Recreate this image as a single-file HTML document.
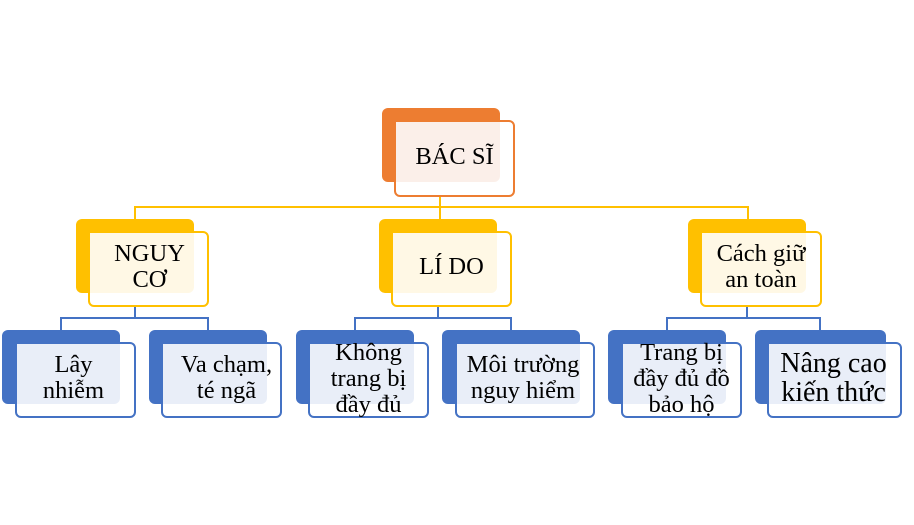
<!DOCTYPE html>
<html><head><meta charset="utf-8"><style>
body{margin:0;width:914px;height:525px;background:#fff;position:relative;overflow:hidden;font-family:"Liberation Serif",serif;}
.b,.f,.t,.l{position:absolute;box-sizing:border-box;}
.b{border-radius:6px;}
.f{border-radius:6px;background:#fff;border:2px solid;}
.t{display:flex;align-items:center;justify-content:center;text-align:center;font-size:24.5px;line-height:26px;color:#000;padding-bottom:4px;white-space:nowrap;}
</style></head><body>
<div class="l" style="left:439px;top:196px;width:2px;height:23px;background:#FFC000"></div>
<div class="l" style="left:134px;top:206px;width:615px;height:2px;background:#FFC000"></div>
<div class="l" style="left:134px;top:206px;width:2px;height:13px;background:#FFC000"></div>
<div class="l" style="left:747px;top:206px;width:2px;height:13px;background:#FFC000"></div>

<div class="l" style="left:60px;top:317px;width:149px;height:2px;background:#4472C4"></div>
<div class="l" style="left:60px;top:317px;width:2px;height:13px;background:#4472C4"></div>
<div class="l" style="left:207px;top:317px;width:2px;height:13px;background:#4472C4"></div>
<div class="l" style="left:134px;top:306px;width:2px;height:12px;background:#4472C4"></div>

<div class="l" style="left:354px;top:317px;width:158px;height:2px;background:#4472C4"></div>
<div class="l" style="left:354px;top:317px;width:2px;height:13px;background:#4472C4"></div>
<div class="l" style="left:510px;top:317px;width:2px;height:13px;background:#4472C4"></div>
<div class="l" style="left:437px;top:306px;width:2px;height:12px;background:#4472C4"></div>

<div class="l" style="left:666px;top:317px;width:155px;height:2px;background:#4472C4"></div>
<div class="l" style="left:666px;top:317px;width:2px;height:13px;background:#4472C4"></div>
<div class="l" style="left:819px;top:317px;width:2px;height:13px;background:#4472C4"></div>
<div class="l" style="left:746px;top:306px;width:2px;height:12px;background:#4472C4"></div>

<div class="b" style="left:382px;top:108px;width:118px;height:74px;background:#ED7D31"></div>
<div class="f" style="left:394px;top:120px;width:121px;height:77px;border-color:#ED7D31"></div>
<div class="b" style="left:396px;top:122px;width:104px;height:60px;background:#FBEFE9;border-radius:0 0 6px 0"></div>
<div class="t" style="left:394px;top:120px;width:121px;height:77px;">BÁC SĨ</div>

<div class="b" style="left:76px;top:219px;width:118px;height:74px;background:#FFC000"></div>
<div class="f" style="left:88px;top:231px;width:121px;height:76px;border-color:#FFC000"></div>
<div class="b" style="left:90px;top:233px;width:104px;height:60px;background:#FFF8E5;border-radius:0 0 6px 0"></div>
<div class="t" style="left:88px;top:231px;width:121px;height:76px;padding-left:2px">NGUY<br>CƠ</div>

<div class="b" style="left:379px;top:219px;width:118px;height:74px;background:#FFC000"></div>
<div class="f" style="left:391px;top:231px;width:121px;height:76px;border-color:#FFC000"></div>
<div class="b" style="left:393px;top:233px;width:104px;height:60px;background:#FFF8E5;border-radius:0 0 6px 0"></div>
<div class="t" style="left:391px;top:231px;width:121px;height:76px;">LÍ DO</div>

<div class="b" style="left:688px;top:219px;width:118px;height:74px;background:#FFC000"></div>
<div class="f" style="left:700px;top:231px;width:122px;height:76px;border-color:#FFC000"></div>
<div class="b" style="left:702px;top:233px;width:104px;height:60px;background:#FFF8E5;border-radius:0 0 6px 0"></div>
<div class="t" style="left:700px;top:231px;width:122px;height:76px;">Cách giữ<br>an toàn</div>

<div class="b" style="left:2px;top:330px;width:118px;height:74px;background:#4472C4"></div>
<div class="f" style="left:15px;top:342px;width:121px;height:76px;border-color:#4472C4"></div>
<div class="b" style="left:17px;top:344px;width:103px;height:60px;background:#E9EEF8;border-radius:0 0 6px 0"></div>
<div class="t" style="left:13px;top:342px;width:121px;height:76px;">Lây<br>nhiễm</div>

<div class="b" style="left:149px;top:330px;width:118px;height:74px;background:#4472C4"></div>
<div class="f" style="left:161px;top:342px;width:121px;height:76px;border-color:#4472C4"></div>
<div class="b" style="left:163px;top:344px;width:104px;height:60px;background:#E9EEF8;border-radius:0 0 6px 0"></div>
<div class="t" style="left:166px;top:342px;width:121px;height:76px;">Va chạm,<br>té ngã</div>

<div class="b" style="left:296px;top:330px;width:118px;height:74px;background:#4472C4"></div>
<div class="f" style="left:308px;top:342px;width:121px;height:76px;border-color:#4472C4"></div>
<div class="b" style="left:310px;top:344px;width:104px;height:60px;background:#E9EEF8;border-radius:0 0 6px 0"></div>
<div class="t" style="left:308px;top:342px;width:121px;height:76px;padding-bottom:2px">Không<br>trang bị<br>đầy đủ</div>

<div class="b" style="left:442px;top:330px;width:138px;height:74px;background:#4472C4"></div>
<div class="f" style="left:455px;top:342px;width:140px;height:76px;border-color:#4472C4"></div>
<div class="b" style="left:457px;top:344px;width:123px;height:60px;background:#E9EEF8;border-radius:0 0 6px 0"></div>
<div class="t" style="left:453px;top:342px;width:140px;height:76px;">Môi trường<br>nguy hiểm</div>

<div class="b" style="left:608px;top:330px;width:118px;height:74px;background:#4472C4"></div>
<div class="f" style="left:621px;top:342px;width:121px;height:76px;border-color:#4472C4"></div>
<div class="b" style="left:623px;top:344px;width:103px;height:60px;background:#E9EEF8;border-radius:0 0 6px 0"></div>
<div class="t" style="left:621px;top:342px;width:121px;height:76px;padding-bottom:2px">Trang bị<br>đầy đủ đồ<br>bảo hộ</div>

<div class="b" style="left:755px;top:330px;width:131px;height:74px;background:#4472C4"></div>
<div class="f" style="left:767px;top:342px;width:135px;height:76px;border-color:#4472C4"></div>
<div class="b" style="left:769px;top:344px;width:117px;height:60px;background:#E9EEF8;border-radius:0 0 6px 0"></div>
<div class="t" style="left:766px;top:342px;width:135px;height:76px;font-size:28px;line-height:29px;">Nâng cao<br>kiến thức</div>
</body></html>
